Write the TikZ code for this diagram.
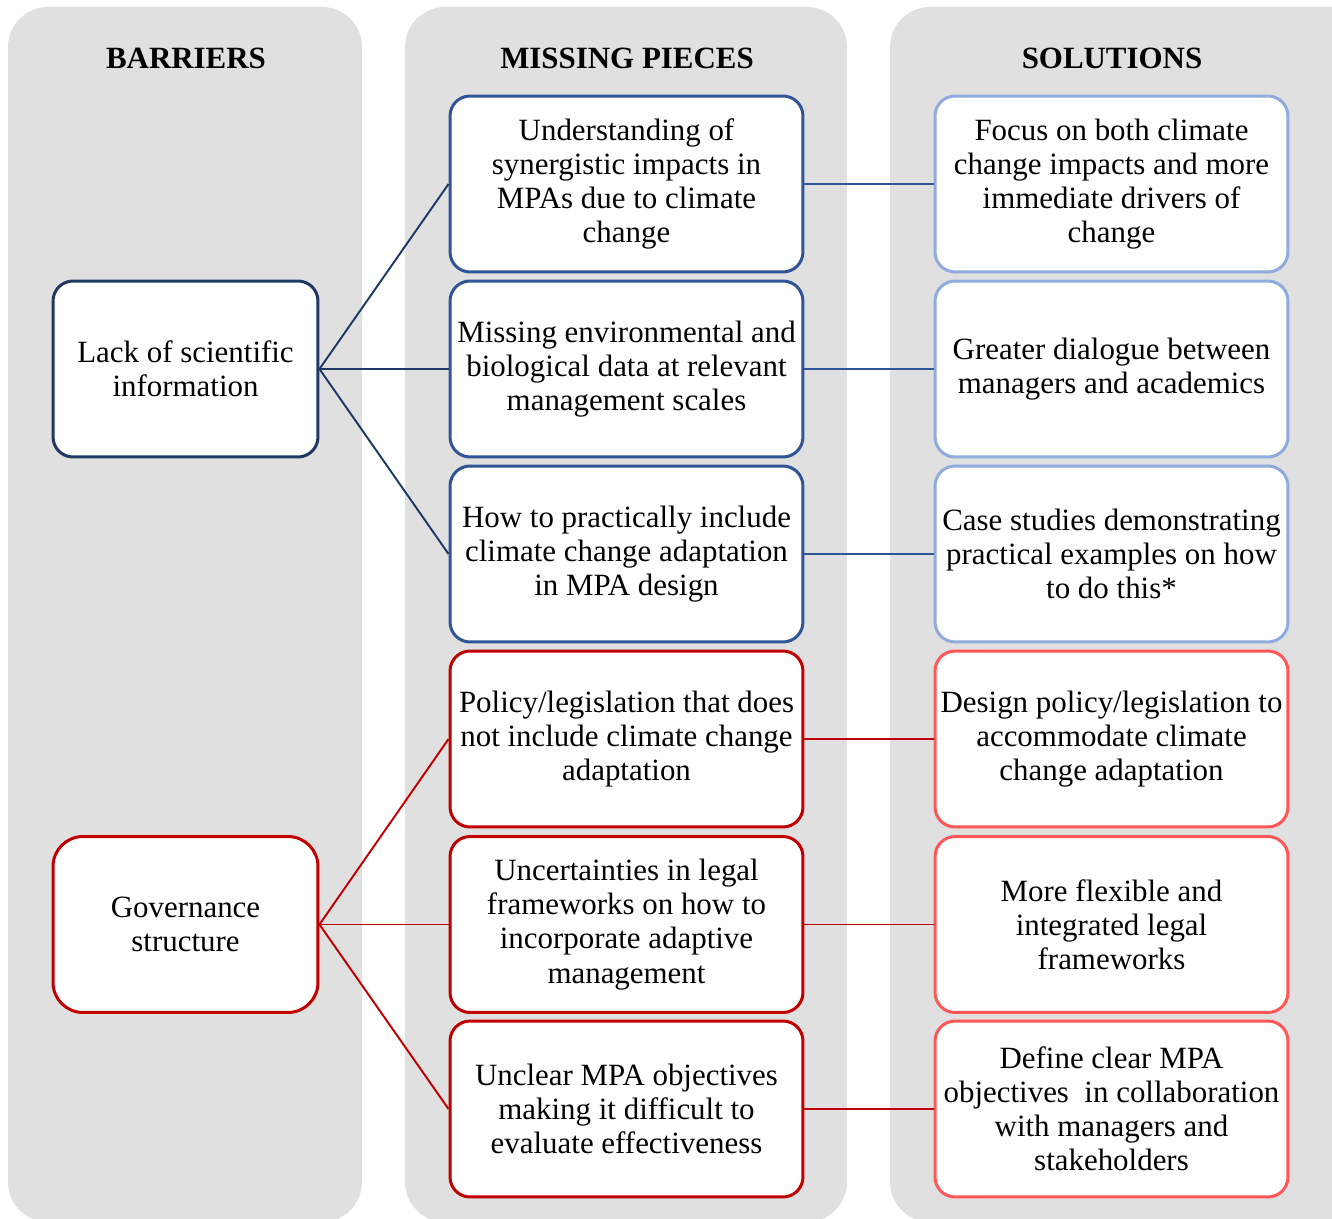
\documentclass[tikz,border=0pt]{standalone}
\usepackage{fontspec}
\setmainfont{Liberation Serif}
\definecolor{colgray}{HTML}{E0E0E0}
\definecolor{navy}{HTML}{203864}
\definecolor{midblue}{HTML}{2F5597}
\definecolor{lightblue}{HTML}{8FAADC}
\definecolor{darkred}{HTML}{C00000}
\definecolor{lightred}{HTML}{FF5757}
\tikzset{
  column/.style={fill=colgray, draw=none, rounded corners=0.8cm},
  header/.style={font=\fontsize{17.6pt}{19.4pt}\selectfont\bfseries},
  box/.style={draw, fill=white, line width=1.7pt, rounded corners=0.4cm,
    align=center, inner sep=1pt, font=\fontsize{17.6pt}{19.4pt}\selectfont},
  barrier/.style={box, minimum width=5.3cm, minimum height=3.52cm},
  piece/.style={box, minimum width=7.06cm, minimum height=3.52cm},
  blueline/.style={line width=1.1pt, color=navy},
  redline/.style={line width=1.1pt, color=darkred}
}
\begin{document}
\begin{tikzpicture}[x=0.02cm, y=-0.02cm]
  \useasboundingbox (0,0) rectangle (1332,1219);

  % Columns
  \fill[column] (8,7) rectangle (362,1222);
  \fill[column] (405,7) rectangle (847,1222);
  \fill[column] (890,7) rectangle (1374,1222);

  \node[header] (hb) at (186,58) {BARRIERS};
  \node[header] (hm) at (627,58) {MISSING PIECES};
  \node[header] (hs) at (1112,58) {SOLUTIONS};

  % Barriers
  \begin{scope}[every node/.style={barrier}]
    \node[draw=navy] (b1) at (185.5,369) {Lack of scientific\\information};
    \node[draw=darkred, rounded corners=0.6cm] (b2) at (185.5,924.5) {Governance\\structure};
  \end{scope}

  % Missing pieces
  \begin{scope}[every node/.style={piece}]
    \node[draw=midblue] (m1) at (626.5,184) {Understanding of\\synergistic impacts in\\MPAs due to climate\\change};
    \node[draw=midblue] (m2) at (626.5,369) {Missing environmental and\\biological data at relevant\\management scales};
    \node[draw=midblue] (m3) at (626.5,554) {How to practically include\\climate change adaptation\\in MPA design};
    \node[draw=darkred] (m4) at (626.5,739) {Policy/legislation that does\\not include climate change\\adaptation};
    \node[draw=darkred] (m5) at (626.5,924.5) {Uncertainties in legal\\frameworks on how to\\incorporate adaptive\\management};
    \node[draw=darkred] (m6) at (626.5,1109) {Unclear MPA objectives\\making it difficult to\\evaluate effectiveness};
  \end{scope}

  % Solutions
  \begin{scope}[every node/.style={piece}]
    \node[draw=lightblue] (s1) at (1111.5,184) {Focus on both climate\\change impacts and more\\immediate drivers of\\change};
    \node[draw=lightblue] (s2) at (1111.5,369) {Greater dialogue between\\managers and academics};
    \node[draw=lightblue] (s3) at (1111.5,554) {Case studies demonstrating\\practical examples on how\\to do this*};
    \node[draw=lightred] (s4) at (1111.5,739) {Design policy/legislation to\\accommodate climate\\change adaptation};
    \node[draw=lightred] (s5) at (1111.5,924.5) {More flexible and\\integrated legal\\frameworks};
    \node[draw=lightred] (s6) at (1111.5,1109) {Define clear MPA\\objectives\ \ in collaboration\\with managers and\\stakeholders};
  \end{scope}

  % Barrier to missing piece
  \draw[blueline] (b1.east) edge (m1.west);
  \draw[blueline] (b1.east) edge (m2.west);
  \draw[blueline] (b1.east) edge (m3.west);

  \draw[redline] (b2.east) edge (m4.west);
  \draw[redline] (b2.east) edge (m5.west);
  \draw[redline] (b2.east) edge (m6.west);

  % Missing piece to solution
  \draw[blueline, color=midblue] (m1.east) edge (s1.west);
  \draw[blueline, color=midblue] (m2.east) edge (s2.west);
  \draw[blueline, color=midblue] (m3.east) edge (s3.west);

  \draw[redline] (m4.east) edge (s4.west);
  \draw[redline] (m5.east) edge (s5.west);
  \draw[redline] (m6.east) edge (s6.west);
\end{tikzpicture}
\end{document}
